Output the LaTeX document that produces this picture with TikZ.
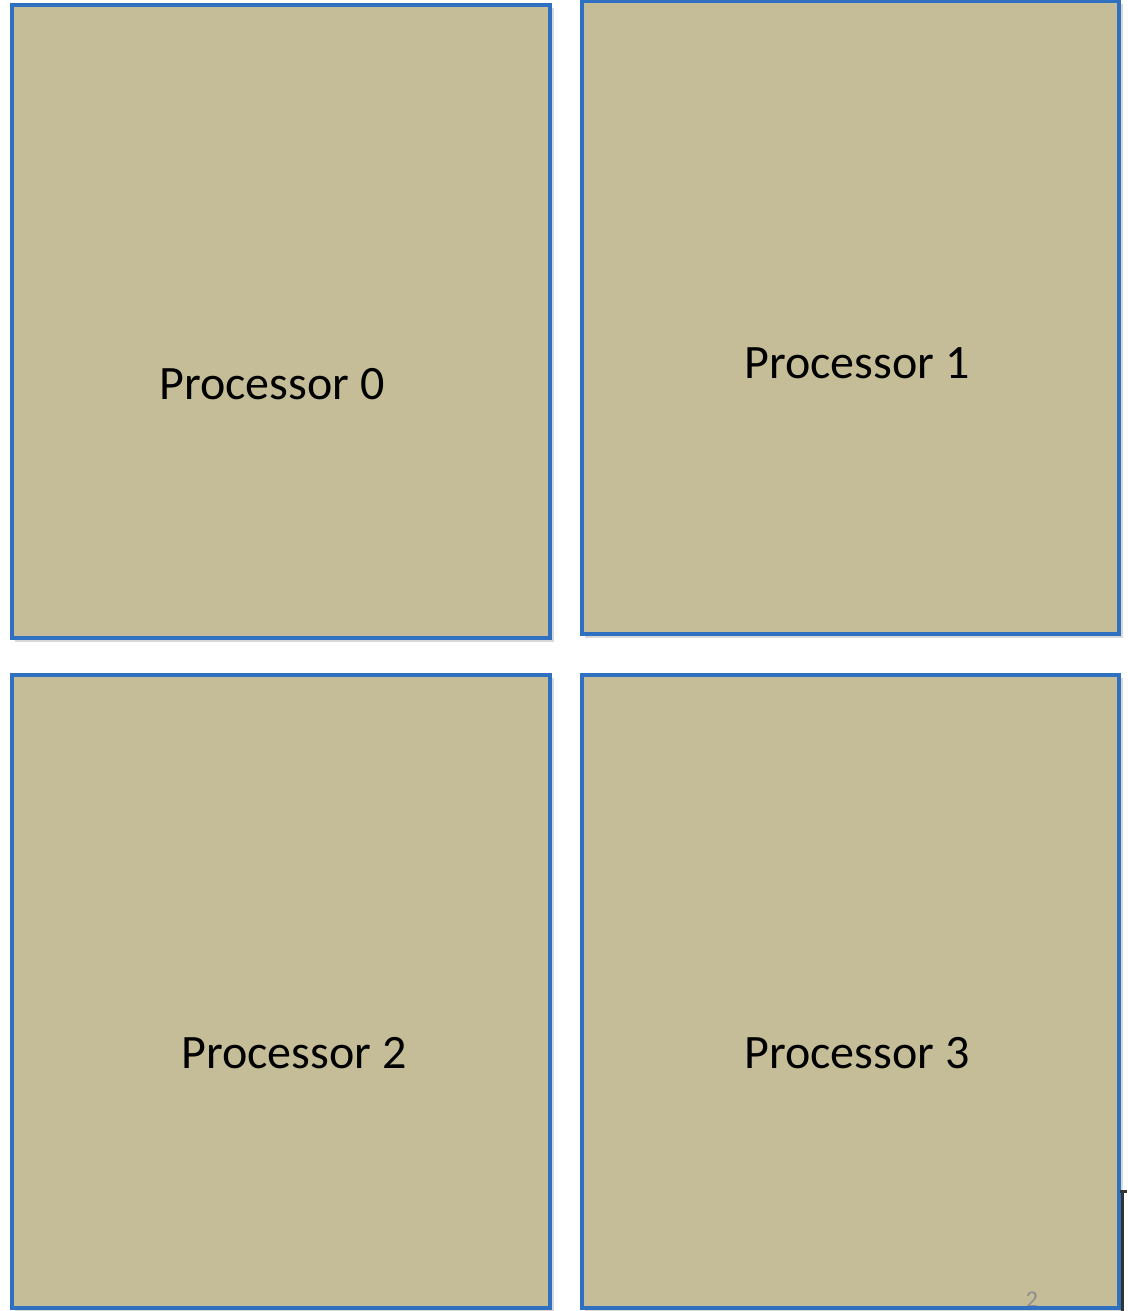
\documentclass[tikz,border=0pt]{standalone}
\usepackage{fontspec}
\setmainfont{Carlito}
\begin{document}
\begin{tikzpicture}[x=1pt,y=-1pt,
  procbox/.style={draw=boxblue,line width=3.5pt,fill=boxfill},
  shadowbox/.style={fill=black!15},
  plabel/.style={font=\fontsize{48}{52}\selectfont,text=black,inner sep=0pt,anchor=center}]
\definecolor{boxblue}{HTML}{3070C0}
\definecolor{boxfill}{HTML}{C4BD97}
\useasboundingbox (0,0) rectangle (1127,1311);
\fill[white] (0,0) rectangle (1127,1311);
% shadows
\fill[shadowbox] (15,8) rectangle (554,642);
\fill[shadowbox] (585,4) rectangle (1123,638);
\fill[shadowbox] (15,678) rectangle (554,1312);
\fill[shadowbox] (585,678) rectangle (1123,1312);
% boxes
\draw[procbox] (12,5) rectangle (550,638) node[pos=0.5] (b0) {};
\draw[procbox] (582,1) rectangle (1119,634) node[pos=0.5] (b1) {};
\draw[procbox] (12,675) rectangle (550,1308) node[pos=0.5] (b2) {};
\draw[procbox] (582,675) rectangle (1119,1308) node[pos=0.5] (b3) {};
% labels
\node[plabel] (p0) at (272,384) {Processor 0};
\node[plabel] (p1) at (857,363) {Processor 1};
\node[plabel] (p2) at (294,1053) {Processor 2};
\node[plabel] (p3) at (857,1053) {Processor 3};
% page number fragment
\node[text=black!45,font=\fontsize{24}{24}\selectfont,inner sep=0pt,anchor=north] (pg) at (1032,1292) {2};
\draw[draw=boxblue,line width=3.5pt] (582,1308) -- (1119,1308);
% dark bracket at right edge
\fill[black!80] (1120,1190) rectangle (1127,1193);
\fill[black!80] (1121,1190) rectangle (1124,1311);
\end{tikzpicture}
\end{document}
